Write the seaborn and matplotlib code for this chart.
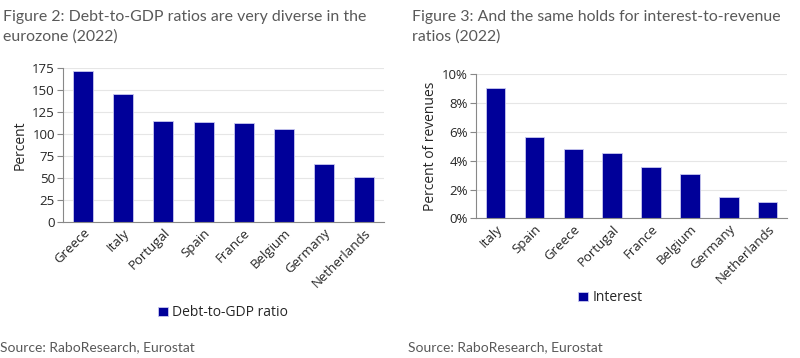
import numpy as np
import pandas as pd
import matplotlib
matplotlib.use("Agg")
import matplotlib.pyplot as plt
import seaborn as sns
from matplotlib.ticker import FuncFormatter, FixedLocator

# data
debt_countries = ['Greece', 'Italy', 'Portugal', 'Spain', 'France', 'Belgium', 'Germany', 'Netherlands']
debt_values = [171.5, 145.0, 114.3, 113.5, 112.0, 105.2, 66.3, 51.5]

interest_countries = ['Italy', 'Spain', 'Greece', 'Portugal', 'France', 'Belgium', 'Germany', 'Netherlands']
interest_values = [9.03, 5.61, 4.80, 4.50, 3.58, 3.05, 1.50, 1.13]

sns.set_style('white')
plt.rcParams['font.family'] = ['Open Sans', 'DejaVu Sans']

bar_color = '#000099'
text_gray = '#595959'
title_font = 'Lato'

fig = plt.figure(figsize=(8, 3.58), dpi=100)
ax1 = fig.add_axes([0.079, 0.380, 0.401, 0.430])
ax2 = fig.add_axes([0.595, 0.390, 0.389, 0.403])


def style_axis(ax, n):
    # category boundary ticks like in excel
    ax.set_xlim(-0.5, n - 0.5)
    ax.xaxis.set_minor_locator(FixedLocator(np.arange(-0.5, n, 1.0)))
    ax.tick_params(axis='x', which='major', length=0, labelsize=9.5, pad=3)
    ax.tick_params(axis='x', which='minor', length=4, color='#888888', width=0.8)
    ax.tick_params(axis='y', which='major', length=4, color='#888888', width=0.8,
                   labelsize=9.5, pad=2, left=True)
    for lbl in ax.get_xticklabels():
        lbl.set_rotation(45)
        lbl.set_ha('right')
        lbl.set_rotation_mode('anchor')
    ax.grid(axis='y', color='#e6e6e6', linewidth=0.8)
    ax.set_axisbelow(True)
    for s in ['top', 'right']:
        ax.spines[s].set_visible(False)
    for s in ['left', 'bottom']:
        ax.spines[s].set_color('#888888')
        ax.spines[s].set_linewidth(0.8)
    ax.set_xlabel('')


# left chart: debt-to-GDP
df1 = pd.DataFrame({'country': debt_countries, 'value': debt_values})
sns.barplot(data=df1, x='country', y='value', ax=ax1, color=bar_color, width=0.5,
            edgecolor='#c8c8f0', linewidth=0.6, saturation=1, label='Debt-to-GDP ratio')
ax1.set_ylim(0, 175)
ax1.set_yticks(np.arange(0, 176, 25))
style_axis(ax1, len(debt_countries))
ax1.set_ylabel('Percent', fontsize=10, labelpad=3)
ax1.legend(loc='center', bbox_to_anchor=(0.279, 0.126), bbox_transform=fig.transFigure,
           frameon=False, fontsize=10, handlelength=0.7, handleheight=0.7, handletextpad=0.3)

# right chart: interest-to-revenue
df2 = pd.DataFrame({'country': interest_countries, 'value': interest_values})
sns.barplot(data=df2, x='country', y='value', ax=ax2, color=bar_color, width=0.5,
            edgecolor='#c8c8f0', linewidth=0.6, saturation=1, label='Interest')
ax2.set_ylim(0, 10)
ax2.set_yticks(np.arange(0, 11, 2))
ax2.yaxis.set_major_formatter(FuncFormatter(lambda v, p: f'{v:.0f}%'))
style_axis(ax2, len(interest_countries))
ax2.set_ylabel('Percent of revenues', fontsize=10, labelpad=3)
ax2.legend(loc='center', bbox_to_anchor=(0.763, 0.168), bbox_transform=fig.transFigure,
           frameon=False, fontsize=10, handlelength=0.7, handleheight=0.7, handletextpad=0.3)

# titles and sources
fig.text(0.004, 0.972, 'Figure 2: Debt-to-GDP ratios are very diverse in the\neurozone (2022)',
         ha='left', va='top', fontsize=11.4, color=text_gray, family=title_font, linespacing=1.5)
fig.text(0.515, 0.972, 'Figure 3: And the same holds for interest-to-revenue\nratios (2022)',
         ha='left', va='top', fontsize=11.4, color=text_gray, family=title_font, linespacing=1.5)
fig.text(0.0, 0.03, 'Source: RaboResearch, Eurostat', ha='left', va='center',
         fontsize=10, color=text_gray, family=title_font)
fig.text(0.51, 0.03, 'Source: RaboResearch, Eurostat', ha='left', va='center',
         fontsize=10, color=text_gray, family=title_font)

fig.savefig('out.png', dpi=100)
